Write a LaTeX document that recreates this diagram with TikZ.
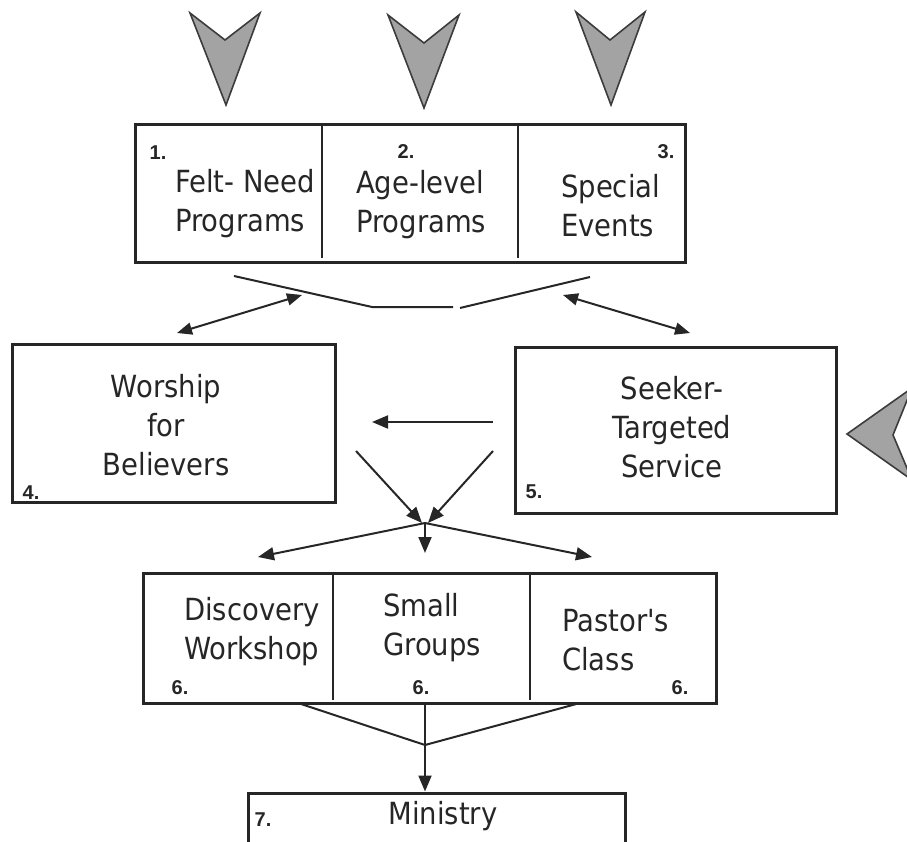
\documentclass[tikz,border=0pt]{standalone}
\usepackage{fontspec}
\setmainfont{DejaVu Sans Condensed}
\newfontfamily\numfont{Liberation Sans}
\usetikzlibrary{arrows.meta}
\definecolor{ink}{HTML}{262626}
\begin{document}
\begin{tikzpicture}[x=1pt,y=-1pt,
  box/.style={draw=ink, line width=3pt, inner sep=0pt},
  divider/.style={draw=ink, line width=2.4pt},
  lbl/.style={font=\fontsize{30.5}{39}\selectfont, text=ink, inner sep=0pt},
  num/.style={font=\numfont\bfseries\fontsize{20}{20}\selectfont, text=ink, inner sep=0pt},
  conn/.style={draw=ink, line width=2pt},
  tip/.style={-{Triangle[length=16pt,width=13pt]}},
  twotip/.style={{Triangle[length=15pt,width=12pt]}-{Triangle[length=15pt,width=12pt]}},
  chev/.style={fill=gray!72, draw=ink!90, line width=1.6pt, line join=miter},
]
\useasboundingbox (0,0) rectangle (907,842);

% incoming chevrons
\path[chev] (190,13) -- (225,40) -- (260,13) -- (226,105) -- cycle;
\path[chev] (388,15) -- (424,43) -- (459,15) -- (424,108) -- cycle;
\path[chev] (576,12) -- (610,40) -- (645,12) -- (611,105) -- cycle;
\path[chev] (912,388) -- (893,435) -- (912,480) -- (847,434) -- cycle;

% boxes
\node[box, minimum width=550, minimum height=138] (top) at (410,194) {};
\node[box, minimum width=323, minimum height=158] (worship) at (173.5,423) {};
\node[box, minimum width=321, minimum height=166] (seeker) at (675.5,430) {};
\node[box, minimum width=573, minimum height=130] (groups) at (429.5,638) {};
\node[box, minimum width=377, minimum height=56] (ministry) at (436.5,821) {};

% column dividers
\coordinate (d1) at (322,0);
\coordinate (d2) at (518,0);
\coordinate (d3) at (333,0);
\coordinate (d4) at (530,0);
\draw[divider] (d1 |- top.north) -- ([yshift=6pt]d1 |- top.south);
\draw[divider] (d2 |- top.north) -- ([yshift=6pt]d2 |- top.south);
\draw[divider] (d3 |- groups.north) -- ([yshift=5pt]d3 |- groups.south);
\draw[divider] (d4 |- groups.north) -- ([yshift=5pt]d4 |- groups.south);

% labels, top row
\node[num] (n1) at (158,153) {1.};
\node[num] (n2) at (406,152) {2.};
\node[num] (n3) at (666,152) {3.};
\node[lbl, align=left, anchor=west] (felt) at (175,204) {Felt- Need\\Programs};
\node[lbl, align=left, anchor=west] (age) at (356,205) {Age-level\\Programs};
\node[lbl, align=left, anchor=west] (special) at (561,206) {Special\\Events};

% labels, middle row
\node[lbl, align=center] (wt) at (166,425) {Worship\\for\\Believers};
\node[lbl, align=center] (st) at (672,427) {Seeker-\\Targeted\\Service};
\node[num] (n4) at (31,493) {4.};
\node[num] (n5) at (534,492) {5.};

% labels, bottom row
\node[lbl, align=left, anchor=west] (disc) at (184,632) {Discovery\\Workshop};
\node[lbl, align=left, anchor=west] (small) at (383,628) {Small\\Groups};
\node[lbl, align=left, anchor=west] (pastor) at (562,640) {Pastor\textquotesingle s\\Class};
\node[num] (n6a) at (180,688) {6.};
\node[num] (n6b) at (421,688) {6.};
\node[num] (n6c) at (680,688) {6.};
\node[num] (n7) at (263,820) {7.};
\node[lbl] (min) at (443,816) {Ministry};

% funnel under the top row
\coordinate (v1) at (234,276);
\coordinate (v2) at (372,307);
\coordinate (v3) at (453,307);
\coordinate (v4) at (460,308);
\coordinate (v5) at (590,277);
\draw[conn] (v1) -- (v2) -- (v3);
\draw[conn] (v4) -- (v5);

% two-way links to the services
\coordinate (a1) at (177,333);
\coordinate (a2) at (302,295);
\coordinate (a3) at (563,295);
\coordinate (a4) at (690,333);
\draw[conn, twotip] (a1) -- (a2);
\draw[conn, twotip] (a3) -- (a4);

% seeker service to worship
\coordinate (h1) at (493,422);
\coordinate (h2) at (372,422);
\draw[conn, tip] (h1) -- (h2);

% both services converge
\coordinate (hub) at (425,523);
\coordinate (c1) at (356,451);
\coordinate (c2) at (493,451);
\draw[conn, tip] (c1) -- ([xshift=-3pt]hub);
\draw[conn, tip] (c2) -- ([xshift=3pt]hub);

% and spread to the three groups
\coordinate (g1) at (258,557);
\coordinate (g2) at (425,553);
\coordinate (g3) at (592,557);
\draw[conn, tip] (hub) -- (g1);
\draw[conn, tip] (hub) -- (g2);
\draw[conn, tip] (hub) -- (g3);

% groups gather into ministry
\coordinate (m1) at (298,703);
\coordinate (m2) at (580,703);
\coordinate (mhub) at (425,745);
\coordinate (m3) at (425,703);
\draw[conn] (m1) -- (mhub) -- (m2);
\draw[conn, tip] (m3) -- (m3 |- ministry.north);
\end{tikzpicture}
\end{document}
